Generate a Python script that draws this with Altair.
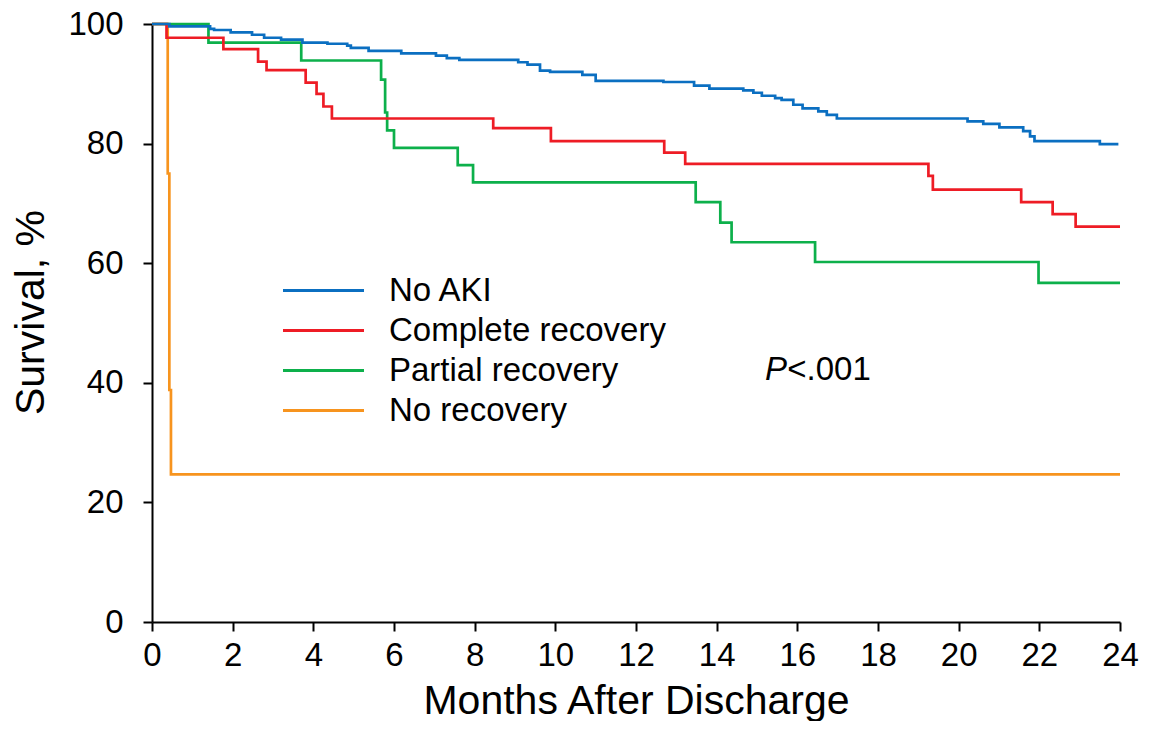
import altair as alt
import pandas as pd

FONT = "Liberation Sans"

series_names = ["No AKI", "Complete recovery", "Partial recovery", "No recovery"]
series_colors = ["#0B6FC1", "#EE1C25", "#0DB04B", "#F7941E"]

no_aki_t = [0, 0.43, 1.44, 1.54, 1.95, 2.48, 2.78, 3.2, 3.73, 4.35, 4.84, 4.93, 5.37, 6.18,
            7.04, 7.31, 7.62, 9.08, 9.31, 9.62, 9.87, 10.67, 11.0, 12.68, 13.44, 13.82, 14.66,
            14.91, 15.12, 15.45, 15.61, 15.9, 16.13, 16.52, 16.73, 16.98, 20.22, 20.61, 21.01,
            21.6, 21.77, 21.88, 23.5, 23.96]
no_aki_s = [100, 99.6, 99.2, 99.0, 98.6, 98.2, 97.7, 97.4, 96.9, 96.7, 96.4, 96.0, 95.5, 95.1,
            94.7, 94.3, 94.0, 93.6, 93.2, 92.2, 92.0, 91.5, 90.5, 90.3, 89.7, 89.2, 88.9,
            88.5, 88.0, 87.6, 87.3, 86.5, 85.9, 85.4, 84.8, 84.2, 83.7, 83.3, 82.7,
            82.1, 81.2, 80.4, 79.9, 79.9]

complete_t = [0, 0.36, 1.77, 2.63, 2.84, 3.81, 4.08, 4.25, 4.46, 8.46, 9.89, 12.7, 13.22,
              19.25, 19.36, 21.55, 22.33, 22.9, 24]
complete_s = [100, 97.7, 95.8, 93.7, 92.3, 90.2, 88.3, 86.2, 84.2, 82.6, 80.4, 78.5, 76.6,
              74.6, 72.3, 70.2, 68.2, 66.1, 66.1]

partial_t = [0, 1.4, 3.7, 5.68, 5.78, 5.83, 6.0, 7.58, 7.96, 13.48, 14.09, 14.37, 16.44, 21.98, 24]
partial_s = [100, 96.9, 93.9, 90.7, 85.2, 82.2, 79.3, 76.4, 73.5, 70.2, 66.8, 63.5, 60.2, 56.7, 56.7]

norec_t = [0, 0.39, 0.43, 0.47, 24]
norec_s = [100, 75.0, 38.8, 24.7, 24.7]

x_ticks = list(range(0, 25, 2))
y_ticks = list(range(0, 101, 20))

ann_italic = ["P"]
ann_rest = ["<.001"]
ann_p_x = [15.2]
ann_rest_x = [15.75]
ann_y = [40.5]

frames = []
for name, t, s in [("No recovery", norec_t, norec_s), ("Partial recovery", partial_t, partial_s),
                   ("Complete recovery", complete_t, complete_s), ("No AKI", no_aki_t, no_aki_s)]:
    frames.append(pd.DataFrame({"month": t, "survival": s, "group": name}))
df = pd.concat(frames, ignore_index=True)

color = alt.Color(
    "group:N",
    scale=alt.Scale(domain=series_names, range=series_colors),
    legend=alt.Legend(
        title=None,
        orient="none",
        legendX=155,
        legendY=250,
        symbolType="M-3,0H3",
        symbolSize=729,
        symbolStrokeWidth=3,
        symbolFillColor="transparent",
        labelFontSize=33,
        labelFont=FONT,
        labelColor="black",
        labelOffset=49,
        rowPadding=6,
        padding=0,
        labelLimit=500,
    ),
)

x_enc = alt.X(
    "month:Q",
    scale=alt.Scale(domain=[0, 24], nice=False, zero=False),
    axis=alt.Axis(values=x_ticks, title="Months After Discharge", format="d", labelFlush=False),
)
y_enc = alt.Y(
    "survival:Q",
    scale=alt.Scale(domain=[0, 100], nice=False),
    axis=alt.Axis(values=y_ticks, title="Survival, %", format="d", titleY=288),
)

layers = []
for name in ["No recovery", "Partial recovery", "Complete recovery", "No AKI"]:
    layers.append(
        alt.Chart(df)
        .transform_filter(alt.datum.group == name)
        .mark_line(interpolate="step-after", strokeWidth=2.7)
        .encode(x=x_enc, y=y_enc, color=color)
    )

ann_df1 = pd.DataFrame({"x": ann_p_x, "y": ann_y, "t": ann_italic})
ann_df2 = pd.DataFrame({"x": ann_rest_x, "y": ann_y, "t": ann_rest})
ann1 = alt.Chart(ann_df1).mark_text(
    align="left", baseline="alphabetic", fontSize=33, font=FONT, fontStyle="italic", color="black"
).encode(x="x:Q", y="y:Q", text="t:N")
ann2 = alt.Chart(ann_df2).mark_text(
    align="left", baseline="alphabetic", fontSize=33, font=FONT, color="black"
).encode(x="x:Q", y="y:Q", text="t:N")

chart = (
    alt.layer(*layers, ann1, ann2)
    .properties(
        width=968,
        height=598,
        autosize=alt.AutoSizeParams(type="none"),
        padding={"left": 144, "top": 16, "right": 20, "bottom": 99},
    )
    .configure_view(stroke=None)
    .configure_axis(
        grid=False,
        domainColor="black",
        domainWidth=2,
        tickColor="black",
        tickWidth=2,
        tickSize=9,
        labelFont=FONT,
        labelFontSize=33,
        labelColor="black",
        titleFont=FONT,
        titleColor="black",
        titleFontWeight="normal",
    )
    .configure_axisX(labelPadding=8, titleFontSize=41, titlePadding=9)
    .configure_axisY(labelPadding=20, titleFontSize=41, titlePadding=15)
)

chart.save("out.html", embed_options={"renderer": "svg", "actions": False})
